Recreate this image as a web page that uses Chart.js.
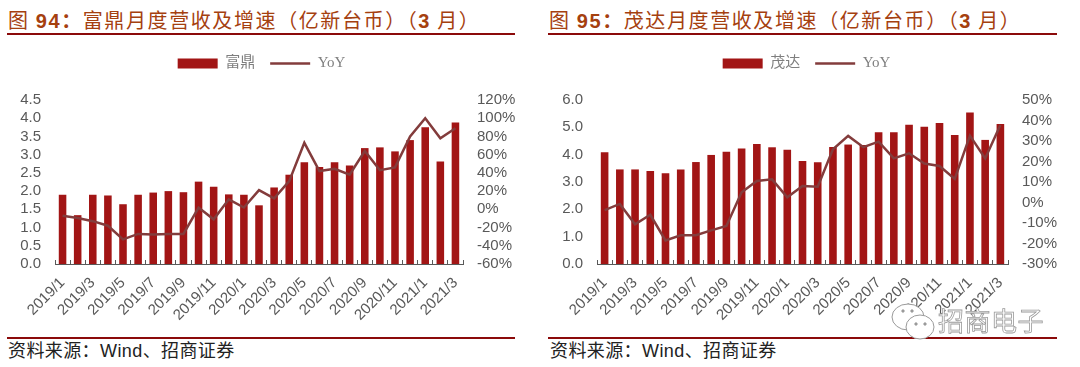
<!DOCTYPE html>
<html>
<head>
<meta charset="utf-8">
<script src="https://cdn.jsdelivr.net/npm/chart.js@4"></script>
<style>
    html, body { margin: 0; padding: 0; background: #fff; }
    body { width: 1080px; height: 367px; position: relative; overflow: hidden; }
    canvas { position: absolute; top: 40px; }
    .titulo { position: absolute; top: 7px; font: 20px "Noto Sans CJK SC", sans-serif; color: #a5400f; letter-spacing: 1.6px; white-space: pre; line-height: 26px; }
    .titulo b { font-family: "Liberation Sans", "Noto Sans CJK SC", sans-serif; font-size: 20px; }
    .regua { position: absolute; height: 2px; background: #8b0a0a; }
    .fonte { position: absolute; top: 337px; font: 18px "Noto Sans CJK SC", sans-serif; color: #222; letter-spacing: 0.4px; white-space: pre; line-height: 24px; }
    .fonte span { font-family: "Liberation Sans", sans-serif; }
    .marca { position: absolute; left: 938px; top: 301px; font: 26px "Noto Sans CJK SC", sans-serif; letter-spacing: 0.5px; color: #fff; -webkit-text-stroke: 0.8px #9a9a9a; white-space: pre; }
    .icone { position: absolute; left: 886px; top: 300px; }
</style>
</head>
<body>
<div class="titulo" style="left:8px">图 <b>94&#xFF1A;</b>富鼎月度营收及增速&#xFF08;亿新台币&#xFF09;&#xFF08;<b>3</b> 月&#xFF09;</div>
<div class="regua" style="left:7px;width:508px;top:33px"></div>
<canvas id="graficoFuding" width="532" height="290" style="left:0"></canvas>
<div class="regua" style="left:7px;width:508px;top:337px"></div>
<div class="fonte" style="left:8px">资料来源&#xFF1A;<span>Wind</span>、招商证券</div>

<div class="titulo" style="left:549px">图 <b>95&#xFF1A;</b>茂达月度营收及增速&#xFF08;亿新台币&#xFF09;&#xFF08;<b>3</b> 月&#xFF09;</div>
<div class="regua" style="left:548px;width:509px;top:33px"></div>
<canvas id="graficoMaoda" width="540" height="290" style="left:545px"></canvas>
<div class="regua" style="left:548px;width:509px;top:337px"></div>
<div class="fonte" style="left:550px">资料来源&#xFF1A;<span>Wind</span>、招商证券</div>

<svg class="icone" width="60" height="46" viewBox="0 0 60 46" fill="#fff" stroke="#9a9a9a" stroke-width="1">
    <ellipse cx="22" cy="17" rx="16" ry="13"></ellipse>
    <ellipse cx="34" cy="27" rx="14" ry="12"></ellipse>
    <circle cx="30" cy="24" r="1.2" fill="#9a9a9a"></circle>
    <circle cx="39" cy="24" r="1.2" fill="#9a9a9a"></circle>
    <circle cx="17" cy="11" r="1.2" fill="#9a9a9a"></circle>
    <circle cx="26" cy="11" r="1.2" fill="#9a9a9a"></circle>
</svg>
<div class="marca">招商电子</div>

<script>
// Meses do eixo x (os rótulos aparecem de dois em dois)
const meses = [
    '2019/1', '2019/2', '2019/3', '2019/4', '2019/5', '2019/6', '2019/7', '2019/8', '2019/9',
    '2019/10', '2019/11', '2019/12', '2020/1', '2020/2', '2020/3', '2020/4', '2020/5', '2020/6',
    '2020/7', '2020/8', '2020/9', '2020/10', '2020/11', '2020/12', '2021/1', '2021/2', '2021/3'
];

// Receita mensal (100 milhões de NT$) e crescimento anual (%)
const receitaFuding = [1.90, 1.34, 1.90, 1.88, 1.64, 1.90, 1.96, 2.00, 1.97, 2.26, 2.12, 1.91, 1.90, 1.61, 2.10, 2.45, 2.79, 2.66, 2.79, 2.70, 3.18, 3.20, 3.09, 3.40, 3.75, 2.81, 3.88];
const yoyFuding = [-7, -9.5, -13, -18, -33, -27, -27.5, -27, -27, 2, -11, 11, 2, 21, 12, 31, 73, 42, 44.5, 38, 64, 43, 46, 80, 100, 78, 89];
const receitaMaoda = [4.09, 3.46, 3.46, 3.40, 3.32, 3.46, 3.73, 3.99, 4.11, 4.23, 4.39, 4.27, 4.18, 3.77, 3.72, 4.28, 4.37, 4.35, 4.82, 4.82, 5.09, 5.02, 5.16, 4.72, 5.54, 4.54, 5.12];
const yoyMaoda = [-3.7, -0.7, -10.6, -6, -18.5, -16, -16, -13.6, -11.5, 5, 10.5, 11.3, 2.5, 8, 7.7, 26, 32.5, 27, 29.7, 21.5, 24, 19, 17.8, 11.5, 32.6, 21.5, 37.8];

const corTexto = '#595959';
const corBarra = '#a21515';
const corLinha = '#833c3c';

// Abre espaço entre a legenda e a área do gráfico
const folgaLegenda = {
    id: 'folgaLegenda',
    beforeInit(grafico) {
        const fitOriginal = grafico.legend.fit;
        grafico.legend.fit = function () {
            fitOriginal.call(this);
            this.height += 19;
        };
    }
};

// Função para criar um gráfico com barras e linha
function criarGrafico(idCanvas, nomeBarra, receita, yoy, eixoEsq, eixoDir, medidas) {
    new Chart(document.getElementById(idCanvas), {
        type: 'bar',
        plugins: [folgaLegenda],
        data: {
            labels: meses,
            datasets: [
                { type: 'line', label: 'YoY', data: yoy, yAxisID: 'yDir', borderColor: corLinha, backgroundColor: corLinha, borderWidth: 2.5, pointRadius: 0, tension: 0, order: 0 },
                { type: 'bar', label: nomeBarra, data: receita, yAxisID: 'yEsq', backgroundColor: corBarra, barPercentage: 1, categoryPercentage: 0.5, order: 1 }
            ]
        },
        options: {
            responsive: false,
            animation: false,
            layout: { padding: { top: 1, left: 0, right: medidas.direita, bottom: 0 } },
            plugins: {
                legend: {
                    reverse: true,
                    labels: {
                        usePointStyle: true,
                        pointStyleWidth: 40,
                        boxHeight: 10,
                        padding: 15,
                        color: '#7f7f7f',
                        font: { family: '"Liberation Serif", "Noto Sans CJK SC", serif', size: 15 },
                        generateLabels: (grafico) => grafico.data.datasets.map((ds, i) => ({
                            text: ds.label,
                            fillStyle: ds.backgroundColor,
                            strokeStyle: ds.type === 'line' ? ds.borderColor : 'transparent',
                            fontColor: '#7f7f7f',
                            lineWidth: ds.type === 'line' ? 2.5 : 0,
                            pointStyle: ds.type === 'line' ? 'line' : 'rect',
                            datasetIndex: i
                        }))
                    }
                },
                tooltip: { enabled: false }
            },
            scales: {
                x: {
                    offset: true,
                    afterFit: (eixo) => { eixo.height = medidas.alturaX; },
                    border: { color: corTexto, width: 1 },
                    grid: { offset: true, drawOnChartArea: false, drawTicks: true, tickLength: -4, tickColor: corTexto },
                    ticks: {
                        autoSkip: false,
                        minRotation: 45,
                        maxRotation: 45,
                        padding: 14,
                        color: corTexto,
                        font: { family: '"Liberation Sans", sans-serif', size: 15 },
                        callback: (valor, i) => (i % 2 === 0 ? meses[i] : '')
                    }
                },
                yEsq: {
                    position: 'left',
                    min: eixoEsq.min,
                    max: eixoEsq.max,
                    afterFit: (eixo) => { eixo.width = medidas.larguraEsq; },
                    border: { display: false },
                    grid: { display: false },
                    ticks: {
                        autoSkip: false,
                        stepSize: eixoEsq.passo,
                        padding: 6,
                        color: corTexto,
                        font: { family: '"Liberation Sans", sans-serif', size: 15 },
                        callback: (valor) => valor.toFixed(1)
                    }
                },
                yDir: {
                    position: 'right',
                    min: eixoDir.min,
                    max: eixoDir.max,
                    afterFit: (eixo) => { eixo.width = 60; },
                    border: { display: false },
                    grid: { display: false },
                    ticks: {
                        autoSkip: false,
                        stepSize: eixoDir.passo,
                        padding: 6,
                        color: corTexto,
                        font: { family: '"Liberation Sans", sans-serif', size: 15 },
                        callback: (valor) => valor + '%'
                    }
                }
            }
        }
    });
}

criarGrafico('graficoFuding', '富鼎', receitaFuding, yoyFuding,
    { min: 0, max: 4.5, passo: 0.5 }, { min: -60, max: 120, passo: 20 },
    { larguraEsq: 55, direita: 9, alturaX: 66 });

criarGrafico('graficoMaoda', '茂达', receitaMaoda, yoyMaoda,
    { min: 0, max: 6, passo: 1 }, { min: -30, max: 50, passo: 10 },
    { larguraEsq: 52, direita: 17, alturaX: 66 });
</script>
</body>
</html>
